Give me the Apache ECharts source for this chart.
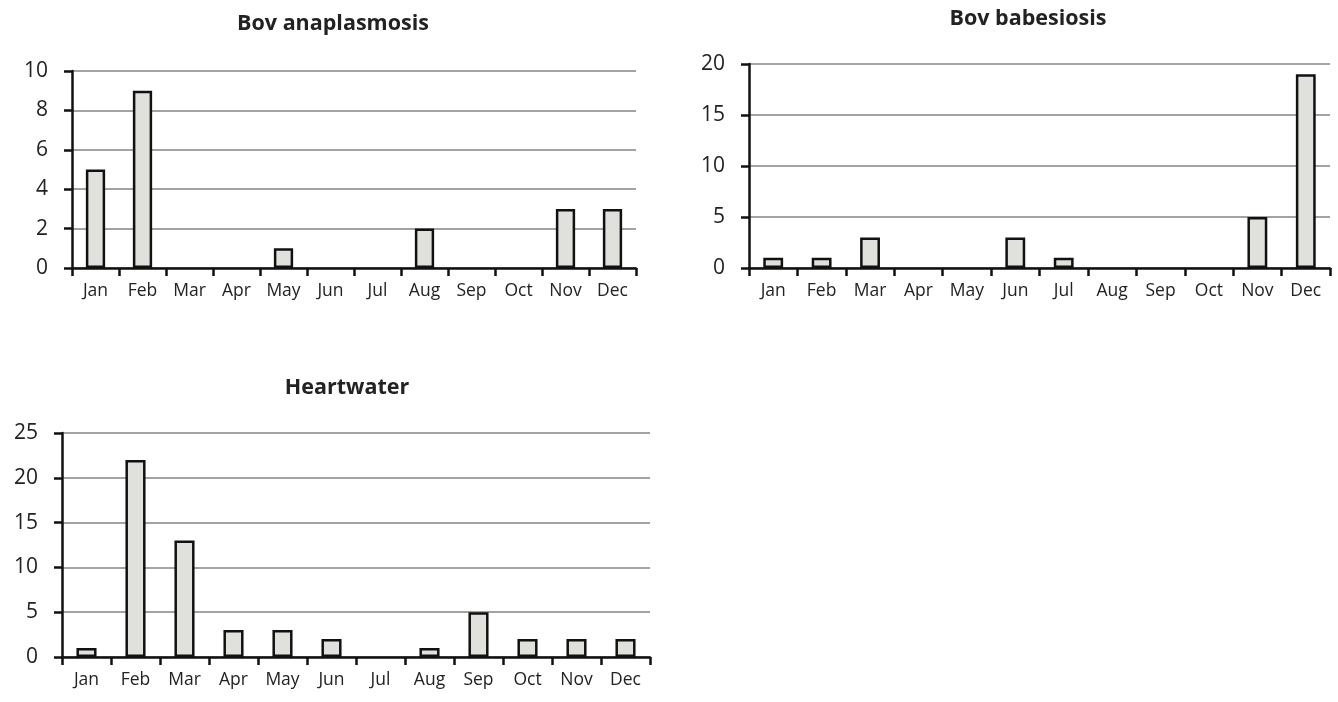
<!DOCTYPE html>
<html><head><meta charset="utf-8">
<script src="https://cdn.jsdelivr.net/npm/echarts@6/dist/echarts.min.js"></script>
<style>html,body{margin:0;padding:0;background:#fff}#c{width:1338px;height:702px}</style>
</head><body><div id="c"></div>
<script>
const months = ['Jan','Feb','Mar','Apr','May','Jun','Jul','Aug','Sep','Oct','Nov','Dec'];
const titles = ['Bov anaplasmosis','Bov babesiosis','Heartwater'];
const anaplasmosis = [5,9,0,0,1,0,0,2,0,0,3,3];
const babesiosis = [1,1,3,0,0,3,1,0,0,0,5,19];
const heartwater = [1,22,13,3,3,2,0,1,5,2,2,2];
const yMax = [10,20,25];
const yStep = [2,5,5];
const seriesData = [anaplasmosis, babesiosis, heartwater];

const grids = [
  {left:72, top:71, width:564, height:197},
  {left:749, top:64, width:581, height:204},
  {left:62, top:433, width:588, height:224}
];
const titlePos = [
  {x:328, y:8},
  {x:1023, y:3},
  {x:342, y:372}
];
const font = '"Open Sans", "Liberation Sans", sans-serif';
const opt = {
  animation:false,
  title: titles.map((t,i)=>({text:t, left:titlePos[i].x, top:titlePos[i].y, textAlign:'center',
    textStyle:{fontFamily:font, fontSize:21.5, fontWeight:'bold', color:'#222'}})),
  grid: grids,
  xAxis: grids.map((g,i)=>({type:'category', gridIndex:i, data:months, boundaryGap:true,
    axisLine:{lineStyle:{color:'#111', width:2.5}},
    axisTick:{show:true, length:8, lineStyle:{color:'#111', width:2.5}},
    axisLabel:{fontFamily:font, fontSize:17.5, color:'#222', margin:14, interval:0}})),
  yAxis: grids.map((g,i)=>({type:'value', gridIndex:i, min:0, max:yMax[i], interval:yStep[i],
    axisLine:{show:true, lineStyle:{color:'#111', width:2.5}},
    axisTick:{show:true, length:8, lineStyle:{color:'#111', width:2.5}},
    axisLabel:{fontFamily:font, fontSize:21, color:'#222', margin:24},
    splitLine:{show:true, lineStyle:{color:'#858585', width:1.5}}})),
  series: seriesData.map((d,i)=>({type:'bar', xAxisIndex:i, yAxisIndex:i,
    data:d.map(v => v === 0 ? '-' : v), barWidth:'41%',
    itemStyle:{color:'#e0e0dc', borderColor:'#111', borderWidth:2.5}}))
};
echarts.init(document.getElementById('c')).setOption(opt);
</script></body></html>
